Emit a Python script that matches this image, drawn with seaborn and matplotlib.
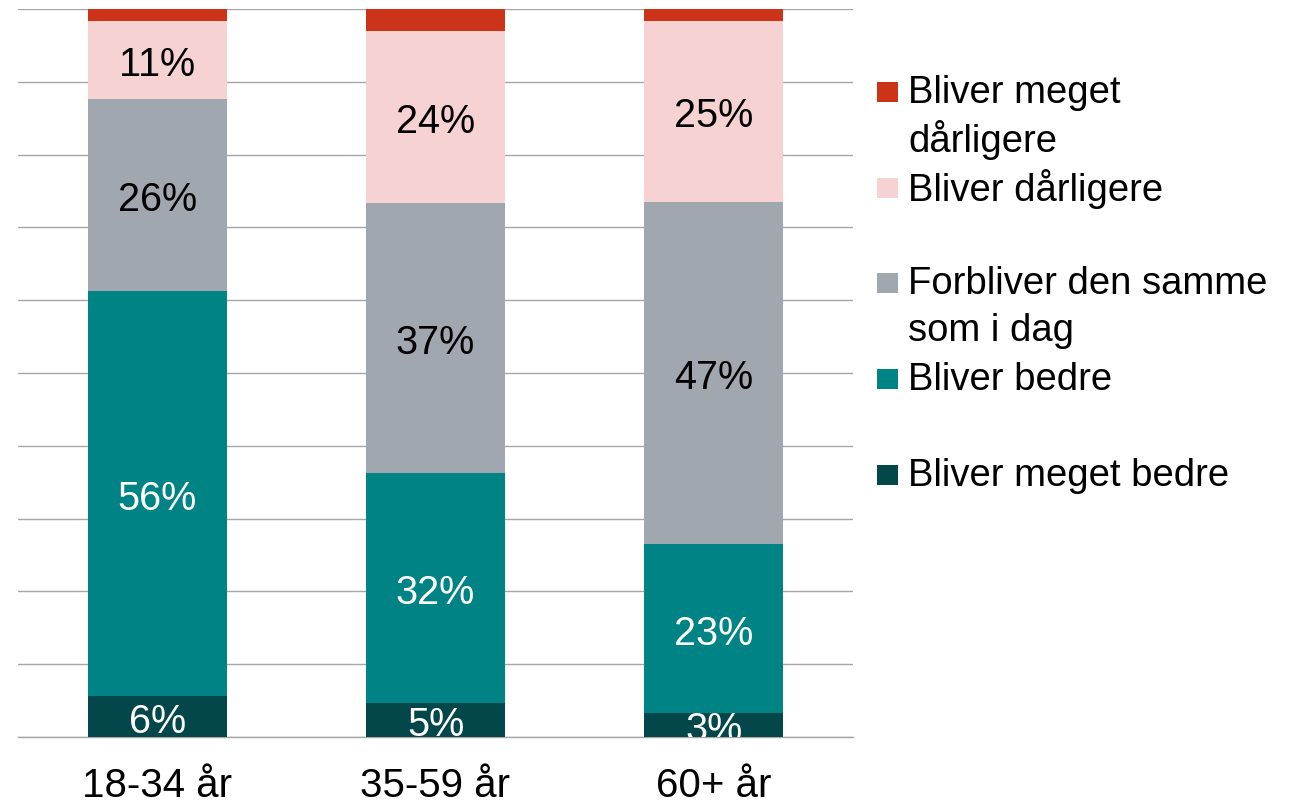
import matplotlib
matplotlib.use("Agg")
import matplotlib.pyplot as plt
import seaborn as sns
import numpy as np
from matplotlib.patches import Rectangle

categories = ["18-34 år", "35-59 år", "60+ år"]
meget_bedre = [5.6, 4.7, 3.3]
bedre = [55.6, 31.6, 23.2]
samme = [26.4, 37.1, 47.0]
daarligere = [10.7, 23.6, 24.9]
meget_daarligere = [1.7, 3.0, 1.6]

series_names = ["Bliver meget bedre", "Bliver bedre", "Forbliver den samme\nsom i dag",
                "Bliver dårligere", "Bliver meget\ndårligere"]
series_values = [meget_bedre, bedre, samme, daarligere, meget_daarligere]
colors = ["#03474A", "#008385", "#A0A7AE", "#F6D2D3", "#CC3319"]
label_colors = ["white", "white", "black", "black", None]

sns.set_theme(style="white")
plt.rcParams["font.family"] = ["Liberation Sans", "DejaVu Sans"]

fig = plt.figure(figsize=(13.09, 8.03), dpi=100)
W, H = 1309, 803
ax = fig.add_axes([18 / W, 1 - 738 / H, (853 - 18) / W, (738 - 10) / H])

cum = np.zeros(len(categories))
for vals, col, lc in zip(series_values, colors, label_colors):
    vals = np.array(vals)
    sns.barplot(x=categories, y=vals, bottom=cum, color=col, saturation=1,
                width=0.5, ax=ax, zorder=3, linewidth=0)
    if lc is not None:
        for i, v in enumerate(vals):
            ax.text(i, cum[i] + v / 2, f"{round(v):.0f}%", ha="center", va="center_baseline",
                    color=lc, fontsize=28.5, zorder=4, clip_on=True)
    cum = cum + vals

ax.set_ylim(0, 100)
ax.set_xlim(-0.5, len(categories) - 0.5)
ax.set_yticks(np.arange(0, 101, 10))
ax.set_yticklabels([])
ax.yaxis.grid(True, color="#A6A6A6", linewidth=1.0, zorder=0)
ax.set_axisbelow(True)
for s in ["left", "right", "top"]:
    ax.spines[s].set_visible(False)
ax.spines["bottom"].set_color("#A6A6A6")
ax.spines["bottom"].set_linewidth(1.0)
ax.tick_params(axis="y", length=0)
ax.set_xticks(range(len(categories)))
ax.set_xticklabels(categories, fontsize=29, color="black")
ax.tick_params(axis="x", which="major", length=0, pad=21)
ax.set_xticks(np.arange(-0.5, len(categories), 1.0), minor=True)
ax.tick_params(axis="x", which="minor", length=9, color="#A6A6A6", width=1.0, direction="out")
ax.set_xlabel("")
ax.set_ylabel("")

# Legend (manual, right side), top entry first
leg_order = list(range(len(series_names)))[::-1]
y_centers = [93, 189, 284, 380, 476]
for yc, k in zip(y_centers, leg_order):
    fig.patches.append(Rectangle((877 / W, 1 - (yc + 10) / H), 21 / W, 20 / H,
                                 transform=fig.transFigure, facecolor=colors[k],
                                 edgecolor="none"))
    lines = series_names[k].split("\n")
    for j, line in enumerate(lines):
        fig.text(908 / W, 1 - (yc + 47 * j) / H, line, ha="left", va="center",
                 fontsize=27.5, color="black")

fig.savefig("out.png", dpi=100)
